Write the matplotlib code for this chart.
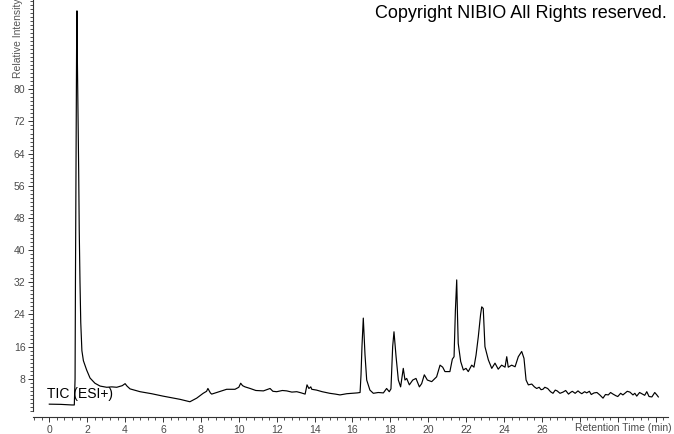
import matplotlib
matplotlib.use("Agg")
import matplotlib.pyplot as plt
from matplotlib.ticker import MultipleLocator

# Retention time (min) and relative intensity
times = [
    0.0, 0.6, 1.2, 1.32, 1.36, 1.38, 1.41, 1.44, 1.46, 1.48, 1.50, 1.52, 1.55,
    1.58, 1.62, 1.66, 1.72, 1.80, 1.97, 2.15, 2.41, 2.68, 3.03, 3.30, 3.56,
    3.85, 4.0, 4.1, 4.26, 4.79, 5.4, 6.0, 6.9, 7.42, 7.78, 8.12, 8.3, 8.37,
    8.5, 8.57, 8.83, 9.1, 9.36, 9.8, 10.0, 10.1, 10.2, 10.33, 10.6, 10.9,
    11.3, 11.65, 11.8, 12.0, 12.3, 12.53, 12.8, 13.06, 13.3, 13.5, 13.6, 13.7,
    13.8, 13.85, 14.1, 14.4, 14.8, 15.1, 15.34, 15.7, 15.96, 16.25, 16.4,
    16.45, 16.5, 16.57, 16.62, 16.66, 16.75, 16.92, 17.1, 17.36, 17.63, 17.8,
    17.94, 18.03, 18.12, 18.19, 18.24, 18.3, 18.42, 18.54, 18.68, 18.77,
    18.86, 19.0, 19.18, 19.35, 19.53, 19.65, 19.79, 19.95, 20.18, 20.44,
    20.62, 20.76, 20.88, 21.14, 21.27, 21.36, 21.43, 21.5, 21.54, 21.58,
    21.71, 21.85, 21.99, 22.11, 22.29, 22.41, 22.52, 22.64, 22.76, 22.82,
    22.9, 22.99, 23.17, 23.35, 23.52, 23.69, 23.87, 24.05, 24.14, 24.22,
    24.4, 24.58, 24.75, 24.93, 25.05, 25.16, 25.28, 25.46, 25.6, 25.72,
    25.85, 25.95, 26.05, 26.15, 26.3, 26.45, 26.58, 26.7, 26.8, 26.95, 27.11,
    27.25, 27.4, 27.5, 27.6, 27.75, 27.9, 28.0, 28.1, 28.25, 28.36, 28.5,
    28.6, 28.75, 28.9, 29.05, 29.22, 29.35, 29.5, 29.62, 29.75, 29.9, 30.0,
    30.15, 30.27, 30.4, 30.5, 30.64, 30.8, 30.9, 31.0, 31.15, 31.3, 31.42,
    31.53, 31.65, 31.8, 31.95, 32.06, 32.14,
]
intensity = [
    1.7, 1.65, 1.5, 1.5, 8.0, 32.0, 60.0, 90.0, 99.5, 88.0, 80.0, 72.0, 60.0,
    45.0, 32.0, 22.0, 15.0, 12.5, 10.2, 8.2, 6.9, 6.2, 5.9, 6.0, 5.9,
    6.3, 6.8, 6.2, 5.5, 4.8, 4.3, 3.7, 2.9, 2.3, 3.2, 4.4, 4.9, 5.6,
    4.5, 4.2, 4.6, 5.0, 5.4, 5.4, 5.9, 6.9, 6.3, 6.0, 5.6, 5.1,
    5.0, 5.6, 4.9, 4.8, 5.1, 5.0, 4.7, 4.8, 4.5, 4.2, 6.5, 5.6,
    6.0, 5.4, 5.2, 4.8, 4.4, 4.2, 4.0, 4.3, 4.4, 4.5, 4.6,
    9.0, 16.0, 23.1, 18.0, 14.0, 7.7, 5.2, 4.4, 4.6, 4.5, 5.6,
    4.8, 5.5, 16.0, 19.7, 17.0, 13.5, 7.7, 6.0, 10.6, 7.7,
    8.1, 6.5, 7.7, 8.1, 6.0, 6.8, 9.0, 7.7, 7.3, 8.5,
    11.4, 10.9, 9.8, 9.8, 12.9, 13.5, 25.0, 32.6, 24.0, 16.8,
    12.3, 10.2, 10.6, 9.8, 11.4, 10.9, 13.9, 18.5, 24.0, 25.9,
    25.5, 16.0, 12.7, 10.6, 11.9, 10.4, 11.4, 10.9, 13.5, 10.9,
    11.4, 11.0, 13.5, 14.8, 13.1, 7.7, 6.5, 6.7, 6.0, 5.6,
    5.9, 5.3, 5.4, 5.9, 5.6, 4.8, 4.4, 5.2, 5.0, 4.4, 4.7,
    5.1, 4.2, 4.6, 4.9, 4.4, 5.0, 4.6, 4.3, 4.8, 4.5, 4.9,
    4.1, 4.5, 4.6, 4.0, 3.2, 4.1, 4.0, 4.6, 4.2, 3.8, 3.6,
    4.4, 4.0, 4.5, 4.9, 4.7, 4.0, 4.4, 3.7, 4.6, 4.2, 3.9,
    4.8, 3.6, 3.5, 4.6, 4.0, 3.5,
]

label_color = "#4a4a4a"
plt.rcParams["font.family"] = ["Liberation Sans", "DejaVu Sans"]

fig = plt.figure(figsize=(6.74, 4.34), dpi=100)
ax = fig.add_axes([33 / 674, 23 / 434, 635 / 674, 411 / 434])
ax.plot(times, intensity, color="black", linewidth=0.85)

ax.set_xlim(-0.86, 32.65)
ax.set_ylim(0, 102.2)

for side in ["top", "right"]:
    ax.spines[side].set_visible(False)
ax.spines["bottom"].set_position(("outward", 4.3))
ax.spines["left"].set_color("#333333")
ax.spines["bottom"].set_color("#333333")

xt = list(range(0, 33, 2))
ax.set_xticks(xt)
ax.set_xticklabels([str(v) if v <= 26 else "" for v in xt])
ax.xaxis.set_minor_locator(MultipleLocator(0.4))
yt = list(range(8, 81, 8))
ax.set_yticks(yt)
ax.yaxis.set_minor_locator(MultipleLocator(1))
ax.tick_params(which="major", length=3.5, width=0.7, colors="#333333",
               labelcolor=label_color, labelsize=7.5, pad=2)
ax.tick_params(which="minor", length=2, width=0.6, colors="#333333")

fig.text(18 / 674, 1 - 78 / 434, "Relative Intensity", rotation=90,
         ha="center", va="bottom", fontsize=7.5, color="#555555")
fig.text(672 / 674, 1 - 428 / 434, "Retention Time (min)", ha="right",
         va="center", fontsize=7.5, color=label_color)
fig.text(667 / 674, 1 - 14 / 434, "Copyright NIBIO All Rights reserved.",
         ha="right", va="center", fontsize=13, color="black")
fig.text(47 / 674, 1 - 394 / 434, "TIC (ESI+)", ha="left", va="center",
         fontsize=10, color="black")

fig.savefig("out.png", dpi=100)
